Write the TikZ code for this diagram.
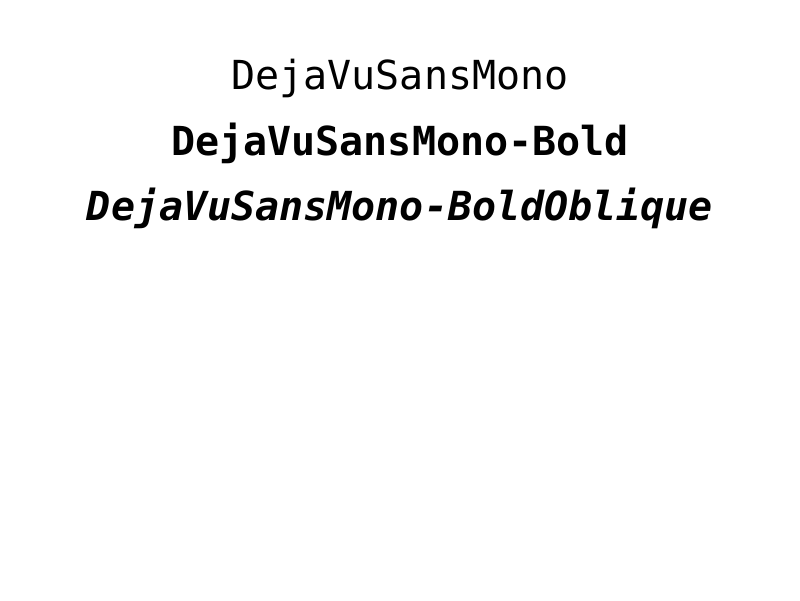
\documentclass[tikz,border=0pt]{standalone}
\usepackage{fontspec}
\newfontfamily\dvmono{DejaVu Sans Mono}
\tikzset{lbl/.style={anchor=base, inner sep=0pt, font=\dvmono\fontsize{40pt}{48pt}\selectfont}}
\begin{document}
\begin{tikzpicture}[x=1pt,y=-1pt]
\useasboundingbox (0,0) rectangle (800,600);
\node[lbl] (a) at (400,89) {DejaVuSansMono};
\node[lbl, font=\dvmono\bfseries\fontsize{40pt}{48pt}\selectfont] (b) at (400,155) {DejaVuSansMono-Bold};
\node[lbl, font=\dvmono\bfseries\itshape\fontsize{40pt}{48pt}\selectfont] (c) at (400,220) {DejaVuSansMono-BoldOblique};
\end{tikzpicture}
\end{document}
